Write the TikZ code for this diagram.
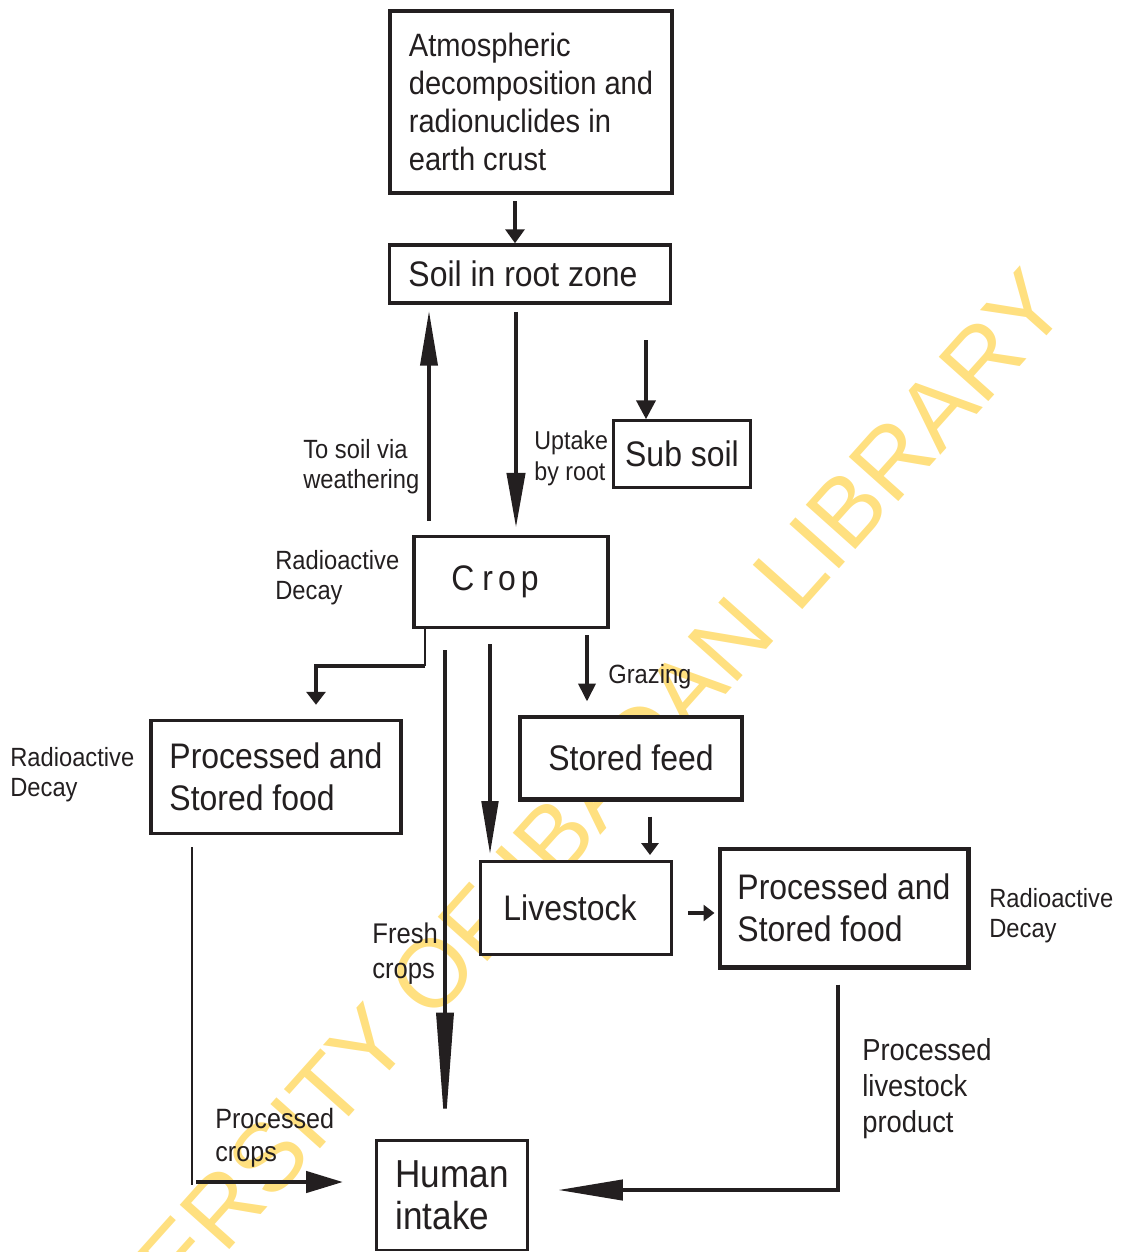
\documentclass[tikz,border=0pt]{standalone}
\usepackage{fontspec}
\setmainfont{Liberation Sans}[FakeStretch=0.9]
\newfontfamily\wmfont{Liberation Sans}
\usepackage{tikz}
\usetikzlibrary{arrows.meta,calc}
\definecolor{ink}{RGB}{35,31,32}
\definecolor{wmyellow}{RGB}{255,224,128}
\newcommand{\fs}[2]{\fontsize{#1}{#2}\selectfont}

\begin{document}
\begin{tikzpicture}[
 x=0.02cm,y=0.02cm,
 every node/.style={text=ink,inner sep=0pt},
 box/.style={draw=ink,fill=white,font=\fs{20.2}{24}},
 lbl/.style={anchor=west,align=left,font=\fs{15}{17}},
 flow/.style={draw=ink,line width=#1},
 tri/.style 2 args={-{Triangle[length=#1,width=#2]}}
]
\useasboundingbox (0,0) rectangle (1124,-1252);
\node[rotate=48.2,text=wmyellow,font=\wmfont\fs{55}{60}] (watermark) at (525,-870) {UNIVERSITY OF IBADAN LIBRARY};

% boxes
\node[box,line width=2.8pt,align=left,minimum width=5.64cm,minimum height=3.64cm,font=\fs{18.4}{21.6}] (atmos) at (531,-102) {Atmospheric\\decomposition and\\radionuclides in\\earth crust};
\node[box,line width=2pt,minimum width=5.62cm,minimum height=1.16cm] (soil) at (530,-274) {Soil in root zone\hspace*{0.28cm}};
\node[box,line width=1.4pt,minimum width=2.74cm,minimum height=1.34cm] (subsoil) at (682,-454) {Sub soil};
\node[box,line width=2pt,minimum width=3.88cm,minimum height=1.82cm] (crop) at (511,-582) {C\hspace*{0.16cm}r\hspace*{0.1cm}o\hspace*{0.1cm}p\hspace*{0.64cm}};
\node[box,line width=2pt,align=left,minimum width=5cm,minimum height=2.26cm] (psl) at (276,-777) {Processed and\\Stored food};
\node[box,line width=2.3pt,minimum width=4.44cm,minimum height=1.66cm] (sfeed) at (631,-758) {Stored feed};
\node[box,line width=1.7pt,minimum width=3.82cm,minimum height=1.86cm] (live) at (576,-908) {Livestock\hspace*{0.24cm}};
\node[box,line width=2.3pt,align=left,minimum width=4.98cm,minimum height=2.38cm] (psr) at (844,-908) {Processed and\\Stored food};
\node[box,line width=1.7pt,align=left,minimum width=3.02cm,minimum height=2.2cm,font=\fs{22.2}{24}] (human) at (452,-1195) {Human\\intake};

% labels
\node[lbl] (weath) at (303,-467) {To soil via\\weathering};
\node[lbl,font=\fs{14.7}{17.6}] (uptake) at (534,-458) {Uptake\\by root};
\node[lbl] (decaycrop) at (275,-578) {Radioactive\\Decay};
\node[lbl] (grazing) at (608,-677) {Grazing};
\node[lbl] (decayleft) at (10,-775) {Radioactive\\Decay};
\node[lbl,font=\fs{16.2}{20}] (fresh) at (372,-954) {Fresh\\crops};
\node[lbl] (decayright) at (989,-916) {Radioactive\\Decay};
\node[lbl,font=\fs{17.3}{20.5}] (plive) at (862,-1089) {Processed\\livestock\\product};
\node[lbl,font=\fs{15.9}{18.7}] (pcrops) at (215,-1138) {Processed\\crops};

% connectors
\draw[flow=2.6pt,tri={0.28cm}{0.38cm},shorten <=0.12cm] (atmos.south -| 515,0) -- (soil.north -| 515,0);
\draw[flow=2.2pt,tri={1.1cm}{0.34cm},shorten <=0.28cm,shorten >=0.12cm] (crop.north -| 429,0) -- (soil.south -| 429,0);
\draw[flow=2.5pt,tri={1.1cm}{0.36cm},shorten <=0.14cm,shorten >=0.14cm] (soil.south -| 516,0) -- (crop.north -| 516,0);
\coordinate (subin) at (646,-340);
\draw[flow=2.2pt,tri={0.38cm}{0.38cm}] (subin) -- (subsoil.north -| subin);
\coordinate (cropfork) at (425,-666);
\draw[flow=1pt] (crop.south -| cropfork) -- (cropfork);
\draw[flow=2.2pt,tri={0.26cm}{0.38cm},shorten >=0.28cm] (cropfork) -| (psl.north -| 316,0);
\draw[flow=2pt,tri={2.42cm}{0.34cm},shorten <=0.42cm,shorten >=0.1cm] (crop.south -| 445,0) -- (human.north -| 445,0);
\draw[flow=2pt,tri={1.06cm}{0.33cm},shorten <=0.3cm,shorten >=0.12cm] (crop.south -| 490,0) -- (live.north -| 490,0);
\draw[flow=2.2pt,tri={0.36cm}{0.34cm},shorten <=0.12cm,shorten >=0.26cm] (crop.south -| 587,0) -- (sfeed.north -| 587,0);
\draw[flow=2pt,tri={0.24cm}{0.34cm},shorten <=0.3cm,shorten >=0.1cm] (sfeed.south -| 650,0) -- (live.north -| 650,0);
\draw[flow=2pt,tri={0.22cm}{0.32cm},shorten <=0.3cm,shorten >=0.06cm] (live.east |- 0,-913) -- (psr.west |- 0,-913);
\draw[flow=2.5pt,tri={1.3cm}{0.4cm},shorten <=0.3cm,shorten >=0.58cm] (psr.south -| 838,0) |- (human.east |- 0,-1190);
\coordinate (pslbend) at (192,-1185);
\draw[flow=1.2pt,shorten <=0.24cm] (psl.south -| pslbend) -- (pslbend);
\draw[flow=2.6pt,tri={0.74cm}{0.42cm},shorten <=0.08cm,shorten >=0.64cm] (pslbend |- 0,-1182) -- (human.west |- 0,-1182);
\end{tikzpicture}
\end{document}
